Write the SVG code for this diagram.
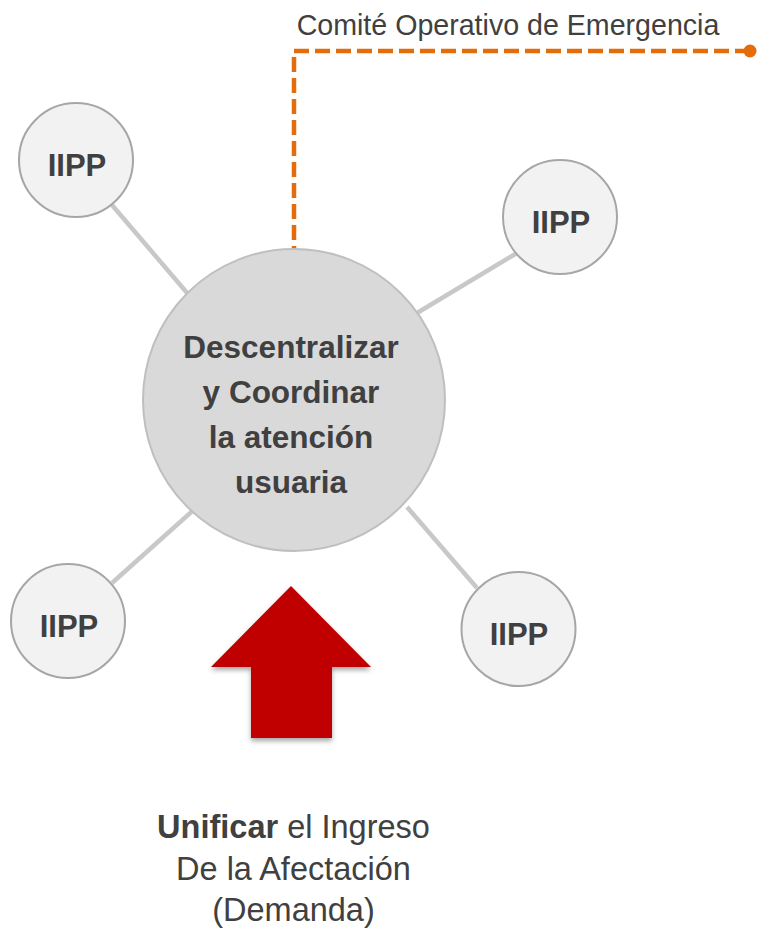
<svg xmlns="http://www.w3.org/2000/svg" width="757" height="930" viewBox="0 0 757 930">
<defs>
<style>
.spoke{stroke:#C8C8C8;stroke-width:4.5;fill:none}
.small{fill:#F2F2F2;stroke:#A6A6A6;stroke-width:2}
.big{fill:#D9D9D9;stroke:#BFBFBF;stroke-width:2}
.lbl{font-family:"Liberation Sans",Arial,sans-serif;font-weight:bold;fill:#404040;text-anchor:middle}
.txt{font-family:"Liberation Sans",Arial,sans-serif;fill:#404040;text-anchor:middle}
.orange{stroke:#E46C0A;stroke-width:4.5;fill:none;stroke-dasharray:15 6}
</style>
<filter id="sh" x="-20%" y="-20%" width="140%" height="140%">
<feDropShadow dx="0" dy="3" stdDeviation="2.5" flood-color="#000" flood-opacity="0.35"/>
</filter>
</defs>
<rect width="757" height="930" fill="#FFFFFF"/>
<g id="connectors">
<line class="spoke" x1="112" y1="205" x2="188" y2="294"/>
<line class="spoke" x1="517" y1="253" x2="417" y2="313"/>
<line class="spoke" x1="198" y1="506" x2="112" y2="583"/>
<line class="spoke" x1="407" y1="507" x2="477" y2="588"/>
<path class="orange" d="M750 51 H294 V249"/>
<circle cx="750" cy="51" r="6.5" fill="#E46C0A"/>
</g>
<g id="comite">
<text class="txt" x="508" y="35" font-size="28.6">Comité Operativo de Emergencia</text>
</g>
<g id="center">
<circle class="big" cx="294" cy="400" r="151"/>
<text class="lbl" x="291" y="358" font-size="31.5">Descentralizar</text>
<text class="lbl" x="291" y="403" font-size="31.5">y Coordinar</text>
<text class="lbl" x="291" y="448" font-size="31.5">la atención</text>
<text class="lbl" x="291" y="493" font-size="31.5">usuaria</text>
</g>
<g id="iipp-tl">
<circle class="small" cx="76" cy="160" r="57"/>
<text class="lbl" x="77" y="176" font-size="31">IIPP</text>
</g>
<g id="iipp-tr">
<circle class="small" cx="560" cy="217" r="57"/>
<text class="lbl" x="561" y="233" font-size="31">IIPP</text>
</g>
<g id="iipp-bl">
<circle class="small" cx="68" cy="621" r="57"/>
<text class="lbl" x="69" y="637" font-size="31">IIPP</text>
</g>
<g id="iipp-br">
<circle class="small" cx="518.5" cy="629" r="57"/>
<text class="lbl" x="519" y="645" font-size="31">IIPP</text>
</g>
<g id="arrow">
<polygon points="291,586 371,667 332,667 332,738 251,738 251,667 211,667" fill="#C00000" filter="url(#sh)"/>
</g>
<g id="unificar">
<text class="txt" x="293.5" y="838" font-size="32.5"><tspan font-weight="bold">Unificar</tspan> el Ingreso</text>
<text class="txt" x="293.5" y="880" font-size="32.5">De la Afectación</text>
<text class="txt" x="293.5" y="921" font-size="32.5">(Demanda)</text>
</g>
</svg>
